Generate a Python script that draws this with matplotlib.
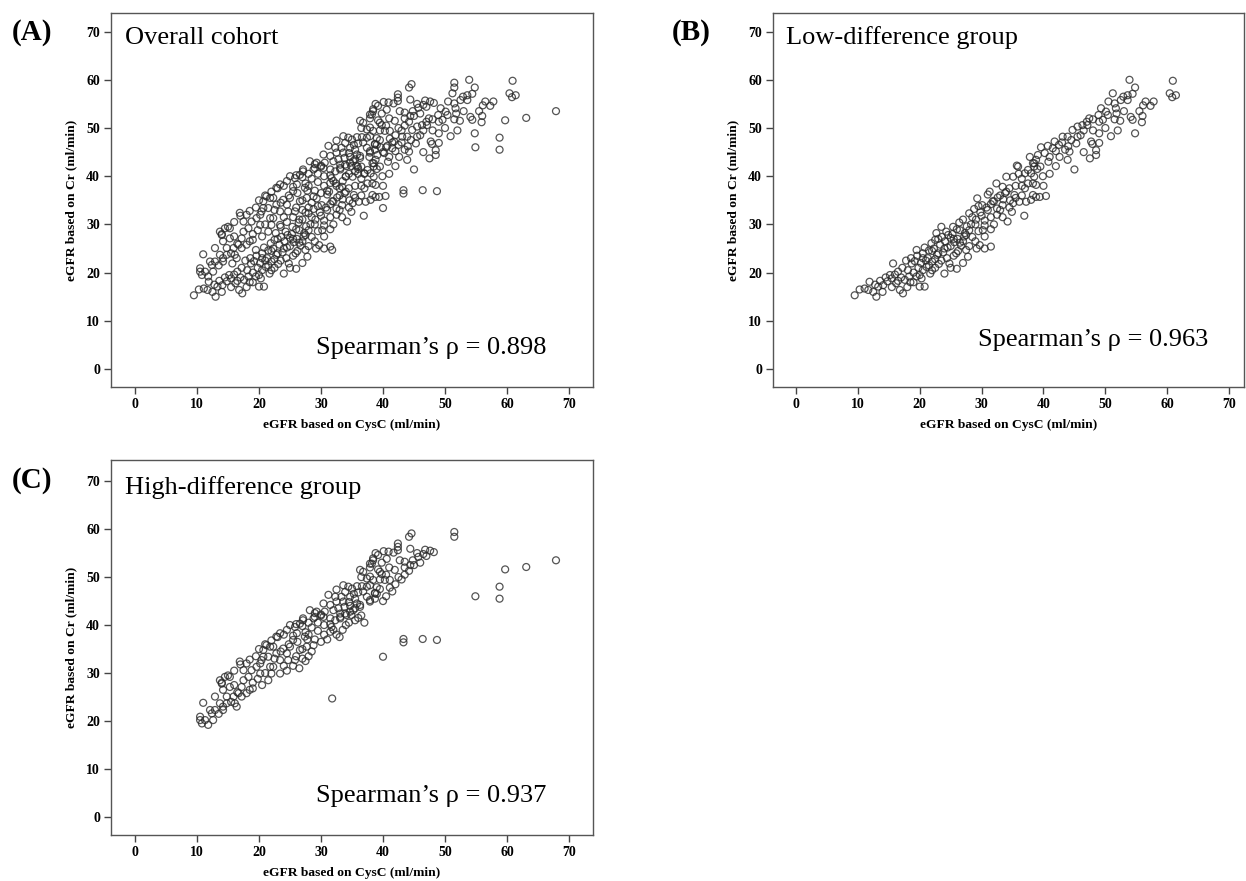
import numpy as np
import matplotlib.pyplot as plt

# eGFR (CysC, Cr) pairs
low_diff = [
    (9.5, 15.3), (10.3, 16.5), (11.1, 16.7), (11.9, 18.1), (11.7, 16.4), (13.0, 15.0), (13.3, 17.1),
    (14.1, 17.4), (12.5, 16.0), (12.8, 17.5), (13.6, 18.3), (14.5, 19.0), (15.2, 19.5), (15.7, 21.9),
    (16.2, 17.8), (16.8, 16.4), (17.3, 15.7), (17.6, 18.5), (18.1, 20.5), (18.7, 21.9), (19.5, 24.7),
    (20.0, 17.1), (20.8, 17.1), (20.3, 18.8), (21.1, 21.2), (21.9, 26.1), (22.7, 28.2), (23.5, 29.5),
    (24.3, 28.5), (25.4, 29.5), (26.5, 28.8), (27.3, 28.2), (27.5, 24.7), (27.8, 23.3), (24.8, 21.9),
    (14.8, 18.2), (15.5, 18.8), (16.0, 19.6), (16.5, 20.2), (17.0, 19.0), (17.2, 21.0), (17.8, 22.5),
    (18.3, 19.2), (18.6, 23.0), (19.0, 20.0), (19.2, 22.4), (19.8, 21.0), (19.6, 23.5), (20.2, 22.0),
    (20.5, 24.0), (20.8, 25.2), (21.3, 23.0), (21.5, 24.6), (21.7, 19.8), (22.0, 22.3), (22.3, 25.0),
    (22.5, 26.8), (22.8, 23.7), (23.1, 21.8), (23.3, 25.8), (23.6, 27.4), (23.8, 24.2), (24.1, 26.5),
    (24.4, 23.0), (24.6, 27.8), (25.0, 25.5), (25.3, 28.0), (25.6, 26.3), (25.9, 24.0), (26.1, 27.0),
    (26.4, 30.4), (26.7, 25.6), (27.0, 31.0), (27.2, 27.5), (27.6, 29.6), (28.0, 32.3), (28.3, 30.0),
    (28.5, 27.4), (28.8, 33.2), (29.1, 31.0), (29.3, 35.4), (29.5, 28.6), (29.8, 32.5), (30.1, 34.0),
    (30.2, 28.8), (30.5, 30.8), (30.8, 33.5), (31.0, 36.2), (31.3, 36.8), (31.5, 31.5), (31.8, 34.8),
    (32.0, 30.0), (32.4, 38.5), (32.6, 35.6), (33.0, 33.0), (33.4, 34.0), (33.4, 31.5), (33.4, 37.8),
    (33.8, 36.5), (34.0, 39.9), (34.0, 36.8), (34.2, 30.6), (34.6, 35.0), (34.9, 32.6), (35.1, 34.4),
    (35.1, 39.9), (35.3, 36.1), (35.7, 42.2), (35.9, 42.0), (36.1, 34.7), (36.5, 38.0), (36.9, 31.8),
    (37.0, 40.6), (37.2, 34.7), (37.5, 41.3), (38.0, 35.1), (38.0, 40.6), (38.3, 42.7), (38.3, 38.5),
    (38.3, 36.1), (38.5, 42.0), (38.5, 42.7), (38.5, 39.9), (38.8, 43.4), (38.8, 38.2), (38.8, 35.7),
    (39.1, 44.4), (39.4, 35.7), (39.6, 46.0), (39.9, 40.0), (40.2, 44.8), (40.4, 35.9), (40.7, 46.3),
    (41.5, 45.8), (41.8, 47.2), (42.0, 42.1), (42.6, 44.0), (43.1, 48.2), (43.9, 48.2), (43.9, 43.4),
    (44.2, 45.1), (44.7, 49.6), (45.0, 41.4), (45.3, 46.8), (45.5, 50.3), (46.3, 50.6), (47.0, 51.3),
    (47.1, 50.6), (47.4, 52.0), (47.5, 43.7), (47.7, 47.2), (47.9, 46.7), (48.5, 45.4), (48.5, 44.4),
    (48.9, 52.7), (49.0, 48.9), (49.0, 46.9), (49.0, 51.3), (49.3, 54.1), (49.6, 51.7), (50.1, 53.4),
    (50.4, 52.7), (50.9, 48.3), (51.2, 57.2), (51.5, 55.1), (51.5, 51.8), (51.7, 54.1), (51.8, 53.0),
    (52.4, 51.5), (52.5, 55.8), (52.9, 56.5), (53.6, 56.8), (53.6, 55.8), (53.9, 60.0), (54.1, 52.3),
    (54.4, 57.1), (54.4, 51.7), (54.8, 58.4), (54.8, 48.9), (55.9, 51.2), (56.1, 54.7), (56.5, 55.5),
    (57.3, 54.6), (57.8, 55.5), (60.4, 57.2), (60.8, 56.4), (60.9, 59.8), (61.4, 56.8),
    (21.0, 22.5), (22.0, 24.5), (23.0, 27.0), (24.0, 25.0), (25.0, 27.2), (26.0, 29.0), (27.0, 26.5),
    (28.0, 28.8), (29.0, 30.0), (30.0, 31.8), (31.0, 33.0), (32.0, 34.8), (33.0, 36.0), (18.0, 17.0),
    (19.0, 18.0), (20.5, 20.5), (22.5, 21.0), (23.5, 22.5), (25.5, 23.5), (26.2, 24.5), (29.0, 26.5),
    (30.5, 27.5), (31.5, 29.0), (32.5, 32.0), (34.5, 33.5), (35.5, 38.0), (36.5, 36.0), (37.0, 37.5),
    (36.0, 40.5), (37.8, 44.0), (39.5, 42.0), (40.8, 43.0), (41.0, 40.5), (42.5, 46.5), (43.5, 45.5),
    (44.5, 47.5), (46.0, 48.5), (46.5, 45.0), (48.0, 49.5), (50.0, 50.0), (52.0, 49.5), (55.5, 53.5),
    (56.0, 52.5), (24.0, 19.8), (26.0, 20.8), (27.0, 22.0), (29.2, 25.0), (30.5, 25.0), (31.5, 25.4),
    (29.7, 25.7), (18.5, 18.0), (19.5, 19.2), (20.5, 23.0), (21.5, 21.5), (22.0, 20.5), (23.0, 24.0),
    (24.5, 25.2), (25.5, 27.0), (26.5, 26.2), (27.5, 27.8), (28.5, 31.5), (29.5, 33.8), (30.5, 29.8),
    (31.5, 34.2), (32.5, 33.3), (33.5, 35.2), (34.5, 37.5), (35.5, 35.5), (36.5, 39.5), (37.5, 38.5),
    (39.0, 41.5), (40.0, 38.0), (41.0, 44.0), (42.0, 45.2), (43.0, 47.0), (44.0, 46.2), (45.5, 48.2),
    (46.5, 49.5), (48.0, 51.8), (50.5, 55.5), (53.0, 53.5), (14.0, 16.0), (15.5, 17.0), (16.5, 18.3),
    (20.0, 19.5), (22.5, 22.8), (25.0, 21.0), (28.0, 25.5),
]

# eGFR (CysC, Cr) pairs
high_diff = [
    (51.5, 59.4), (51.5, 58.4), (67.9, 53.5), (63.1, 52.1), (59.7, 51.6), (58.8, 48.0), (58.8, 45.5),
    (54.9, 46.0), (43.3, 37.1), (43.3, 36.4), (46.4, 37.1), (48.7, 36.9), (40.0, 33.4), (31.8, 24.7),
    (44.6, 59.1), (44.2, 58.4), (42.4, 57.0), (42.4, 56.3), (42.4, 55.6), (44.4, 55.9), (46.8, 55.7),
    (47.6, 55.5), (47.0, 54.4), (45.7, 54.2), (40.1, 55.4), (40.9, 55.3), (41.7, 55.1), (40.6, 53.8),
    (42.7, 53.5), (43.5, 53.2), (44.4, 52.5), (44.2, 51.3), (41.9, 51.5), (43.5, 52.0), (39.2, 54.6),
    (38.4, 53.9), (38.2, 52.8), (37.9, 52.0), (36.3, 51.5), (36.8, 51.1), (37.9, 50.1), (38.4, 49.4),
    (39.5, 49.5), (40.3, 49.4), (41.1, 49.4), (41.1, 47.8), (39.2, 51.6), (39.8, 50.6), (37.4, 48.0),
    (36.6, 48.1), (35.8, 48.1), (35.0, 47.6), (33.6, 48.3), (32.5, 47.4), (38.7, 46.7), (37.4, 45.9),
    (38.7, 45.5), (37.9, 44.9), (36.3, 44.2), (35.5, 43.5), (34.7, 42.8), (33.9, 42.4), (33.1, 41.7),
    (32.3, 41.0), (31.7, 39.6), (31.5, 38.6), (39.5, 51.1), (37.9, 52.8), (38.4, 53.5), (37.4, 49.7),
    (37.9, 48.3), (39.0, 47.9), (37.9, 45.2), (38.7, 46.6), (34.4, 48.0), (33.9, 46.9), (31.2, 46.3),
    (32.3, 45.9), (33.3, 45.9), (34.7, 45.9), (35.5, 45.5), (30.4, 44.5), (31.5, 44.2), (32.5, 44.9),
    (33.6, 44.9), (34.7, 44.0), (35.8, 44.5), (35.2, 43.1), (36.3, 43.8), (28.2, 43.1), (29.3, 42.8),
    (30.6, 42.8), (32.0, 43.1), (33.1, 42.4), (34.1, 42.1), (34.9, 42.1), (27.1, 41.4), (28.8, 41.4),
    (30.4, 41.7), (31.5, 41.4), (33.1, 41.4),
    (11.0, 23.8), (10.5, 20.9), (11.3, 20.2), (10.8, 19.5), (11.8, 19.2), (12.6, 20.2), (12.4, 21.6),
    (12.9, 22.3), (13.7, 23.7), (12.9, 25.1), (13.7, 28.5), (14.5, 29.2), (15.3, 29.2), (14.2, 26.5),
    (15.3, 27.1), (14.8, 25.1), (14.2, 23.0), (15.9, 25.1), (16.1, 23.7), (16.4, 23.0), (16.7, 25.8),
    (17.2, 27.1), (17.5, 28.5), (16.9, 32.4), (18.0, 32.0), (17.5, 30.6), (18.3, 29.2), (18.5, 26.5),
    (18.0, 25.8), (17.2, 25.1), (18.8, 30.6), (19.6, 31.3), (20.2, 29.9), (20.4, 32.7), (20.7, 34.8),
    (21.2, 35.8), (21.8, 35.5), (20.7, 33.4), (21.5, 33.4), (20.2, 32.0), (21.8, 31.3), (22.0, 29.9),
    (22.3, 31.3), (23.4, 29.9), (23.4, 32.7), (22.8, 34.1), (22.3, 35.5), (22.8, 37.6), (23.4, 38.3),
    (24.5, 39.0), (23.9, 35.1), (24.5, 34.1), (25.0, 35.5), (25.5, 36.9), (26.1, 38.3), (25.8, 39.6),
    (26.6, 40.3), (27.1, 41.0), (26.6, 34.8), (25.8, 32.7), (24.7, 32.7), (27.4, 37.6), (27.7, 35.5),
    (10.5, 20.2), (12.1, 22.3), (14.2, 22.3), (14.8, 23.7), (14.0, 27.8),
    (28.0, 38.0), (29.0, 37.0), (30.0, 36.5), (28.5, 39.5), (29.5, 40.5), (30.5, 38.0), (31.0, 37.0),
    (27.5, 38.5), (29.0, 42.5), (30.0, 42.0), (24.5, 30.5), (25.5, 31.5), (26.5, 31.0), (27.0, 33.0),
    (27.5, 32.5), (28.0, 33.5), (28.5, 34.5), (26.0, 33.5), (32.5, 38.0), (33.5, 39.0), (34.0, 40.0),
    (34.5, 40.5), (35.5, 41.0), (36.5, 42.0), (37.0, 40.5), (36.0, 41.5), (33.0, 37.5), (39.0, 46.5),
    (40.0, 45.0), (40.5, 46.0), (41.5, 47.0), (42.0, 48.5), (43.0, 49.5), (43.5, 50.5), (44.8, 53.5),
    (45.0, 52.5), (46.0, 53.0), (46.5, 54.8), (48.2, 55.2), (45.5, 55.0), (39.5, 47.5), (40.5, 50.5),
    (42.5, 50.0), (41.0, 52.0), (39.8, 53.0), (38.8, 55.0), (14.0, 28.0), (15.0, 29.5), (16.0, 30.5),
    (17.0, 31.8), (18.5, 32.8), (19.5, 33.5), (20.0, 35.0), (21.0, 36.0), (22.0, 36.8), (23.0, 37.5),
    (24.0, 38.0), (25.0, 40.0), (26.0, 40.2), (27.0, 39.8), (28.0, 40.5), (29.0, 41.7), (30.0, 42.2),
    (19.0, 28.0), (19.8, 28.8), (21.0, 30.0), (21.5, 28.5), (22.5, 33.0), (23.5, 34.5), (24.0, 31.5),
    (24.8, 36.0), (25.5, 37.8), (26.2, 36.5), (27.0, 35.0), (27.8, 37.0), (28.8, 35.8), (29.5, 38.8),
    (30.5, 40.0), (31.5, 40.2), (32.0, 39.0), (32.8, 43.5), (33.8, 43.8), (34.5, 44.8), (35.3, 46.5),
    (36.0, 46.8), (36.8, 47.0), (36.5, 50.0), (16.0, 27.5), (16.5, 26.0), (13.5, 21.5), (15.5, 24.0),
    (19.0, 26.8), (20.5, 27.5),
]

panel_tags = ["(A)", "(B)", "(C)"]
panel_titles = ["Overall cohort", "Low-difference group", "High-difference group"]
rho_values = ["0.898", "0.963", "0.937"]
ticks = [0, 10, 20, 30, 40, 50, 60, 70]

low = np.array(low_diff)
high = np.array(high_diff)
overall = np.vstack([low, high])
groups = [overall, low, high]

plt.rcParams['font.family'] = ['Liberation Serif', 'DejaVu Serif']

W, H = 1246, 881
fig = plt.figure(figsize=(W / 100, H / 100), dpi=100)

# axes boxes in pixels: left, top, right, bottom
boxes = [(111, 13, 593, 387), (773, 13, 1244, 387), (111, 460, 593, 835)]
xlims = [(-3.87, 73.87), (-3.7, 72.4), (-3.87, 73.87)]
ylims = [(-3.73, 73.86), (-3.73, 73.86), (-3.75, 74.4)]
tag_pos = [(12, 32), (672, 32), (12, 480)]
rho_pos = [(29.2, 4.4), (29.4, 6.0), (29.2, 4.4)]

for i in range(3):
    l, t, r, b = boxes[i]
    ax = fig.add_axes([l / W, 1 - b / H, (r - l) / W, (b - t) / H])
    x, y = groups[i][:, 0], groups[i][:, 1]
    ax.scatter(x, y, s=25, facecolors='none', edgecolors='#2a2a2a', linewidths=0.9, alpha=0.8)
    ax.set_xlim(*xlims[i])
    ax.set_ylim(*ylims[i])
    ax.set_xticks(ticks)
    ax.set_yticks(ticks)
    ax.tick_params(direction='out', length=5, width=1, color='#444444', labelsize=10, pad=3)
    for lab in ax.get_xticklabels() + ax.get_yticklabels():
        lab.set_fontweight('bold')
    for sp in ax.spines.values():
        sp.set_color('#555555')
        sp.set_linewidth(1.0)
    ax.set_xlabel("eGFR based on CysC (ml/min)", fontsize=9.7, fontweight='bold', labelpad=6)
    ax.set_ylabel("eGFR based on Cr (ml/min)", fontsize=9.7, fontweight='bold', labelpad=6)
    ax.text(-1.6, 68.7, panel_titles[i], fontsize=19, va='center', ha='left')
    ax.text(rho_pos[i][0], rho_pos[i][1], "Spearman\u2019s \u03c1 = " + rho_values[i],
            fontsize=19, va='center', ha='left')
    fig.text(tag_pos[i][0] / W, 1 - tag_pos[i][1] / H, panel_tags[i], fontsize=21,
             fontweight='bold', va='center', ha='left')

plt.savefig("out.png", dpi=100, facecolor='white')
